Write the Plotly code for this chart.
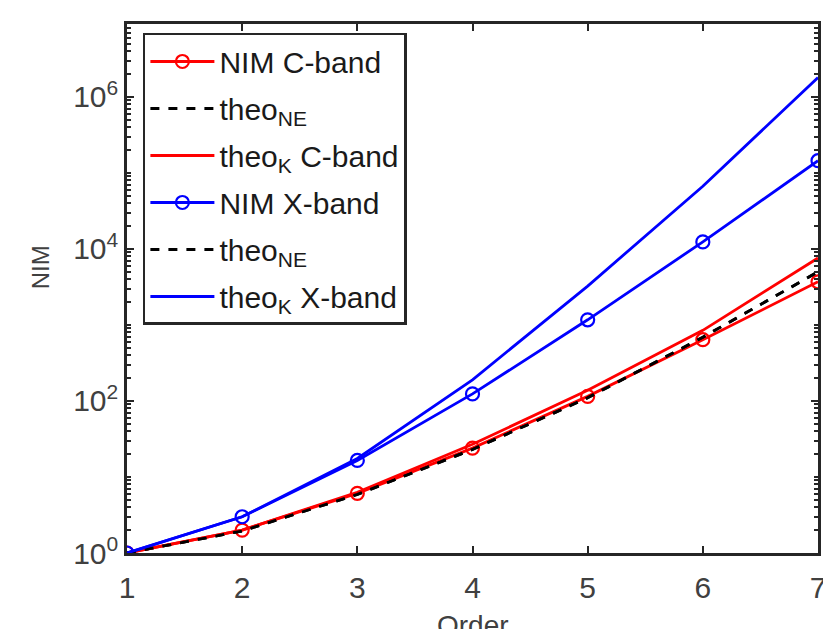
import plotly.graph_objects as go

order = [1, 2, 3, 4, 5, 6, 7]
nim_c = [1, 2.0, 6.1, 24, 115, 640, 3700]
theo_ne = [1, 1.95, 5.9, 23, 110, 690, 5000]
theo_k_c = [1, 2.0, 6.3, 27, 138, 850, 7600]
nim_x = [1, 3.0, 16.5, 124, 1170, 12400, 145000]
theo_k_x = [1, 3.0, 17.5, 190, 3250, 67000, 1800000]

ytick_vals = [1, 1e2, 1e4, 1e6]
ytick_text = ["10<sup>0</sup>", "10<sup>2</sup>", "10<sup>4</sup>", "10<sup>6</sup>"]

RED = "#ff0000"
BLUE = "#0000ff"
FONT = "Liberation Sans, Arial, sans-serif"

fig = go.Figure()
specs = [
    (nim_c, "NIM C-band", RED, "solid", True),
    (theo_ne, "theo<sub>NE</sub>", "black", "dash", False),
    (theo_k_c, "theo<sub>K</sub> C-band", RED, "solid", False),
    (nim_x, "NIM X-band", BLUE, "solid", True),
    (theo_ne, "theo<sub>NE</sub>", "black", "dash", False),
    (theo_k_x, "theo<sub>K</sub> X-band", BLUE, "solid", False),
]
for i, (ys, name, col, dash, mk) in enumerate(specs):
    fig.add_trace(go.Scatter(
        x=order, y=ys, name=name, legendgroup=f"g{i}",
        mode="lines+markers" if mk else "lines",
        line=dict(color=col, width=2.8, dash=dash),
        marker=dict(symbol="circle-open", size=13, color=col, line=dict(width=2.2)),
    ))

axis_common = dict(showline=True, linecolor="#262626", linewidth=2.5, mirror="ticks",
                   ticks="inside", tickcolor="#262626", tickwidth=2, ticklen=7,
                   showgrid=False, zeroline=False, automargin=False,
                   ticklabeloverflow="allow",
                   tickfont=dict(family=FONT, size=30, color="#404040"))

fig.update_xaxes(range=[1, 7], tickvals=order, ticklabelstandoff=6, **axis_common)
fig.update_yaxes(type="log", range=[0, 6.96], tickvals=ytick_vals, ticktext=ytick_text,
                 minor=dict(ticks="inside", ticklen=4, tickwidth=1.5, tickcolor="#262626", dtick="D1"),
                 **axis_common)

fig.add_annotation(text="NIM", xref="paper", yref="paper", x=-0.126, y=0.54,
                   xanchor="center", yanchor="middle", textangle=-90, showarrow=False,
                   font=dict(family=FONT, size=24, color="#404040"))
fig.add_annotation(text="Order", xref="paper", yref="paper", x=0.5, y=-0.104,
                   xanchor="center", yanchor="top", showarrow=False,
                   font=dict(family=FONT, size=28, color="#404040"))

fig.update_layout(
    width=823, height=629,
    margin=dict(l=127, r=5, t=24, b=76),
    plot_bgcolor="white", paper_bgcolor="white",
    legend=dict(x=0.023, y=0.983, xanchor="left", yanchor="top",
                bgcolor="white", bordercolor="#262626", borderwidth=2.5,
                font=dict(family=FONT, size=30, color="#1a1a1a"),
                itemwidth=64, tracegroupgap=5),
    showlegend=True,
)

fig.write_html("out.html", config={"displayModeBar": False},
               post_script="document.body.style.margin='0';document.body.style.overflow='hidden';")
